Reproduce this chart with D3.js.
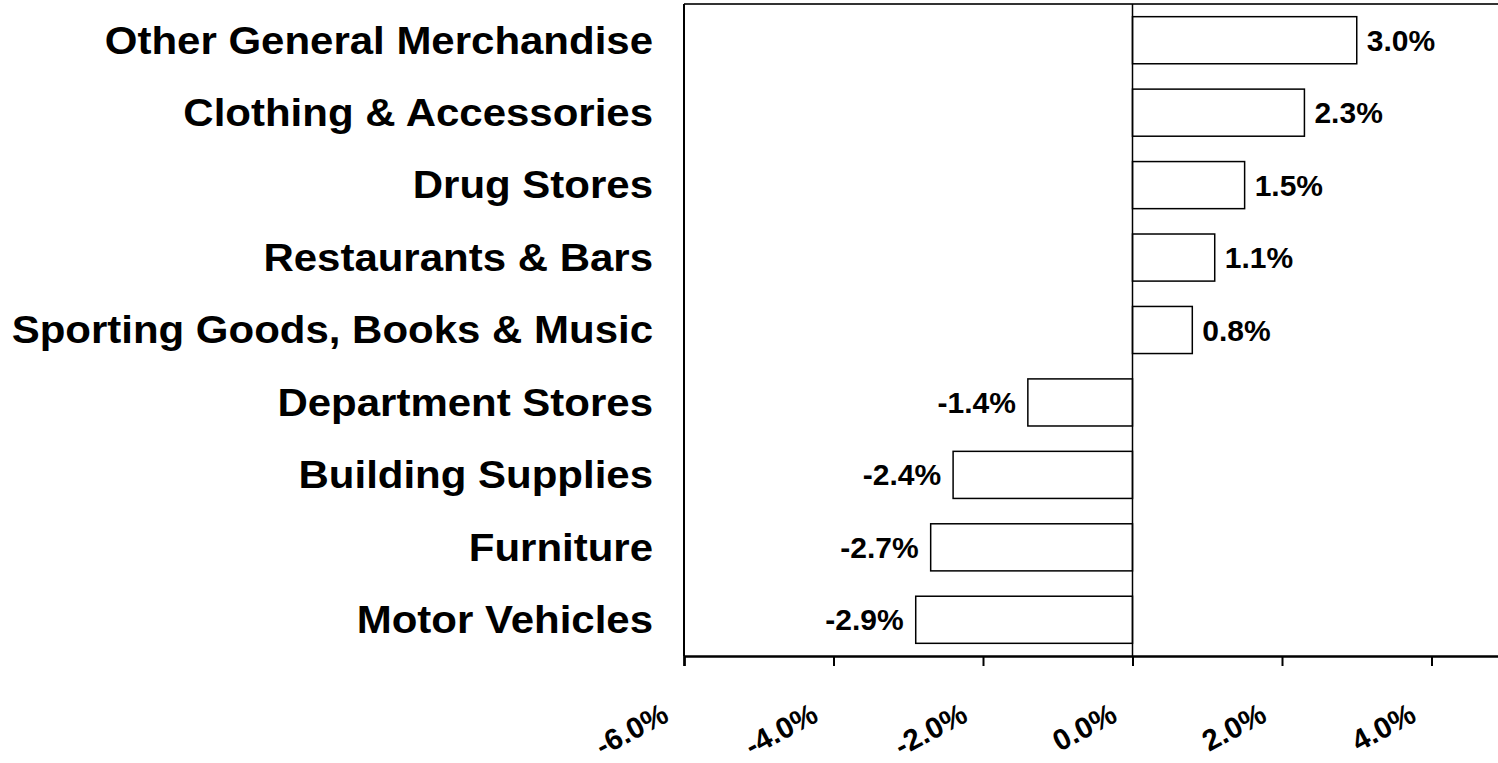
<!DOCTYPE html>
<html>
<head>
<meta charset="utf-8">
<style>
  body { margin: 0; background: #fff; }
  text { font-family: "Liberation Sans", Arial, sans-serif; font-weight: bold; fill: #000; }
</style>
</head>
<body>
<svg width="1498" height="763"></svg>
<script src="https://cdn.jsdelivr.net/npm/d3@7"></script>
<script>
// retail categories and change in sales
var categories = ["Other General Merchandise", "Clothing & Accessories", "Drug Stores",
  "Restaurants & Bars", "Sporting Goods, Books & Music", "Department Stores",
  "Building Supplies", "Furniture", "Motor Vehicles"];
var values = [3.0, 2.3, 1.5, 1.1, 0.8, -1.4, -2.4, -2.7, -2.9];
var tickValues = [-6, -4, -2, 0, 2, 4];

var svg = d3.select("svg"),
    width = +svg.attr("width"),
    height = +svg.attr("height");

var plotLeft = 684, plotTop = 4, plotBottom = 656;

// axis runs past the right edge of the picture (cropped in the original)
var x = d3.scaleLinear().domain([-6, 6]).range([plotLeft, plotLeft + 12 * 74.75]);
var y = d3.scaleBand().domain(categories).range([plotTop, plotBottom]).paddingInner(0.35).paddingOuter(0.175);

// frame: top and left
svg.append("line").attr("x1", plotLeft).attr("x2", width).attr("y1", plotTop).attr("y2", plotTop)
  .attr("stroke", "#333").attr("stroke-width", 2);
svg.append("line").attr("x1", plotLeft).attr("x2", plotLeft).attr("y1", plotTop).attr("y2", plotBottom)
  .attr("stroke", "#000").attr("stroke-width", 2);

// bars
svg.selectAll(".bar")
  .data(values)
  .enter().append("rect")
    .attr("class", "bar")
    .attr("x", function(d) { return x(Math.min(0, d)); })
    .attr("y", function(d, i) { return y(categories[i]); })
    .attr("width", function(d) { return Math.abs(x(d) - x(0)); })
    .attr("height", y.bandwidth())
    .attr("fill", "#fff")
    .attr("stroke", "#000")
    .attr("stroke-width", 1.5);

// zero line
svg.append("line").attr("x1", x(0)).attr("x2", x(0)).attr("y1", plotTop).attr("y2", plotBottom)
  .attr("stroke", "#000").attr("stroke-width", 1.5);

// value labels
svg.selectAll(".val")
  .data(values)
  .enter().append("text")
    .attr("class", "val")
    .attr("x", function(d) { return d >= 0 ? x(d) + 10 : x(d) - 12; })
    .attr("y", function(d, i) { return y(categories[i]) + y.bandwidth() / 2; })
    .attr("dy", "0.35em")
    .attr("text-anchor", function(d) { return d >= 0 ? "start" : "end"; })
    .style("font-size", "30px")
    .text(function(d) { return d.toFixed(1) + "%"; });

// category labels (slightly widened, like the original)
svg.selectAll(".cat")
  .data(categories)
  .enter().append("text")
    .attr("class", "cat")
    .attr("transform", function(d) {
      return "translate(" + (plotLeft - 31) + "," + (y(d) + y.bandwidth() / 2) + ") scale(1.105,1)";
    })
    .attr("dy", "0.35em")
    .attr("text-anchor", "end")
    .style("font-size", "38px")
    .text(function(d) { return d; });

// x axis
var xAxis = svg.append("g")
  .attr("transform", "translate(0," + plotBottom + ")")
  .call(d3.axisBottom(x).tickValues(tickValues).tickSize(10).tickFormat(function(d) { return d.toFixed(1) + "%"; }));
xAxis.select(".domain").attr("stroke", "#000").attr("stroke-width", 2.5);
xAxis.selectAll(".tick line").attr("stroke", "#000").attr("stroke-width", 2);
xAxis.selectAll(".tick text")
  .attr("text-anchor", "end")
  .attr("x", -16).attr("y", 0).attr("dy", 0)
  .attr("transform", "translate(0,57) rotate(-28)")
  .style("font-size", "29.5px")
  .style("font-family", "'Liberation Sans', Arial, sans-serif")
  .style("font-weight", "bold")
  .attr("fill", "#000");
</script>
</body>
</html>
